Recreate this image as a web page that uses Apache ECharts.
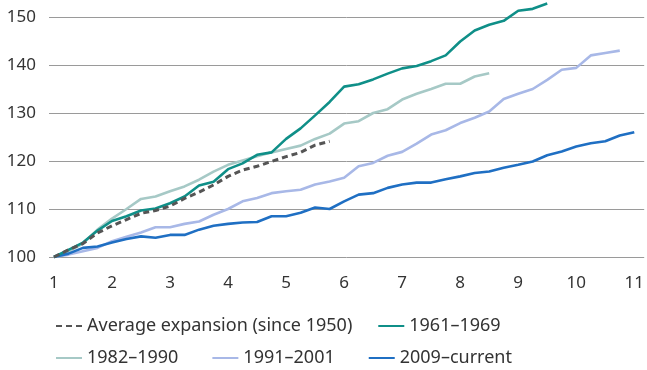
<!DOCTYPE html>
<html><head><meta charset="utf-8">
<script src="https://cdn.jsdelivr.net/npm/echarts@6/dist/echarts.min.js"></script>
<style>html,body{margin:0;padding:0;background:#fff}#c{width:647px;height:370px}</style>
</head><body><div id="c"></div>
<script>
// x positions: expansion year, quarterly steps starting at 1
var xTicks = [1,2,3,4,5,6,7,8,9,10,11];
var yTicks = [100,110,120,130,140,150];
var seriesNames = ['Average expansion (since 1950)','1961–1969','1982–1990','1991–2001','2009–current'];
var avgValues = [100,101.5,102.8,105,106.5,107.8,109.1,109.7,110.6,112.2,113.5,115,116.8,118.1,118.9,119.9,120.9,121.8,123.3,124.1];
var v1961 = [100,101.5,103,105.5,107.5,108.5,109.7,110.1,111.2,112.6,114.9,115.7,118.3,119.5,121.3,121.8,124.6,126.8,129.5,132.3,135.5,136,137,138.2,139.3,139.8,140.8,142,144.9,147.2,148.4,149.2,151.3,151.7,152.8];
var v1982 = [100,101.2,102.8,105.7,108,110,112.1,112.6,113.7,114.7,116.1,117.8,119.2,120.1,121,121.8,122.5,123.2,124.6,125.7,127.8,128.3,130,130.8,132.8,134,135,136.1,136.1,137.6,138.3];
var v1991 = [100,100.5,101.2,101.9,103.3,104.2,105.1,106.2,106.2,106.9,107.4,108.8,110,111.6,112.3,113.3,113.7,114,115.1,115.75,116.5,118.9,119.6,121.1,121.9,123.6,125.5,126.4,127.9,129,130.3,132.9,134,135,136.9,139,139.4,142,142.5,143];
var v2009 = [100,100.7,101.9,102.2,103,103.75,104.3,104,104.6,104.6,105.7,106.5,106.9,107.2,107.3,108.5,108.5,109.2,110.3,110,111.6,113,113.3,114.4,115.1,115.5,115.5,116.2,116.8,117.5,117.8,118.6,119.2,119.9,121.2,122,123,123.7,124.1,125.3,126];
var colors = ['#555555','#0f8f88','#a6c9c6','#a8b8e7','#1f6fc3'];

function toPairs(arr){ return arr.map(function(v,i){ return [1 + i*0.25, v]; }); }
var allValues = [avgValues, v1961, v1982, v1991, v2009];
var zs = [10, 6, 4, 3, 5];

var chart = echarts.init(document.getElementById('c'), null, {renderer:'canvas'});
var font = 'Noto Sans';
var series = seriesNames.map(function(n, i){
  return {
    name: n, type: 'line', data: toPairs(allValues[i]), symbol: 'none', clip: false,
    z: zs[i],
    lineStyle: { color: colors[i], width: i === 0 ? 3 : 2.6, type: i === 0 ? [6,4] : 'solid' },
    itemStyle: { color: colors[i] }
  };
});

var legendCommon = {
  left: 50, itemWidth: 26, itemHeight: 14, selectedMode: false,
  itemStyle: { opacity: 0 },
  textStyle: { color: '#333', fontSize: 18, fontFamily: font }
};

chart.setOption({
  animation: false,
  color: colors,
  grid: { left: 49, right: 0, top: 17, bottom: 113, containLabel: false },
  xAxis: {
    type: 'value', min: 0.9144, max: 11.171,
    axisLine: { show: false }, axisTick: { show: false }, splitLine: { show: false },
    axisLabel: { customValues: xTicks, color: '#333', fontSize: 17, fontFamily: font, margin: 18 }
  },
  yAxis: {
    type: 'value', min: 100, max: 150, interval: 10,
    axisLine: { show: false }, axisTick: { show: false },
    splitLine: { lineStyle: { color: '#9a9a9a', width: 1 } },
    axisLabel: { color: '#333', fontSize: 17, fontFamily: font, margin: 13 }
  },
  legend: [
    Object.assign({}, legendCommon, { data: [seriesNames[0], seriesNames[1]], top: 312, itemGap: 25 }),
    Object.assign({}, legendCommon, { data: [seriesNames[2], seriesNames[3], seriesNames[4]], top: 344, itemGap: 33 })
  ],
  series: series
});
</script></body></html>
